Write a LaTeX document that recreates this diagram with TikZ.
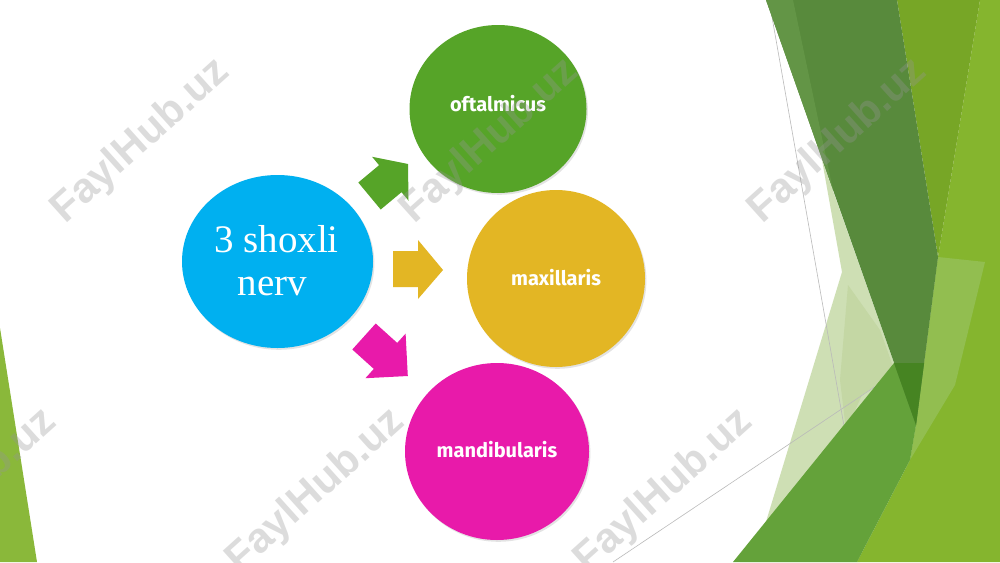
\documentclass[tikz,border=0pt]{standalone}
\usepackage{fontspec}
\setmainfont{Liberation Serif}
\newfontfamily\labelfont{Fira Sans}
\newfontfamily\wmfont{Liberation Sans}
\usetikzlibrary{shapes.geometric,shadows}
\definecolor{cblue}{RGB}{0,176,240}
\definecolor{cgreen}{RGB}{86,164,40}
\definecolor{cyellow}{RGB}{227,182,36}
\definecolor{cmag}{RGB}{232,26,170}
\definecolor{gdark}{RGB}{88,138,60}
\definecolor{gdarklt}{RGB}{99,149,70}
\definecolor{golive}{RGB}{119,166,38}
\definecolor{gyg}{RGB}{133,181,46}
\definecolor{gyglt}{RGB}{146,190,80}
\definecolor{gmed}{RGB}{100,162,58}
\definecolor{gdeep}{RGB}{70,132,34}
\definecolor{gpale}{RGB}{206,223,180}
\definecolor{gmidpale}{RGB}{196,215,164}
\definecolor{gstrip}{RGB}{138,184,58}
\begin{document}
\begin{tikzpicture}[x=0.5pt,y=-0.5pt,
  bubble/.style={ellipse, inner sep=0pt, draw=none,
    drop shadow={shadow xshift=0.7pt, shadow yshift=-0.9pt, opacity=0.22}},
  lbl/.style={text=white, font=\labelfont\bfseries\fontsize{10}{12}\selectfont, anchor=base, inner sep=0pt},
  serif/.style={text=white, font=\fontsize{19.5}{21}\selectfont, anchor=base, inner sep=0pt},
  wm/.style={text=black!41, text opacity=0.33, font=\wmfont\bfseries\fontsize{21}{22}\selectfont, rotate=42, inner sep=0pt},
  thinline/.style={draw=black!27, line width=0.3pt}
]
\fill[white] (0,0) rectangle (1000,562);
\useasboundingbox (0,0) rectangle (1000,562);

% background facets
\fill[gpale] (822,160) -- (842,272) -- (765,525) -- (740,562) -- (860,562) -- (900,380) -- cycle;
\fill[gmidpale] (848,285) -- (880,330) -- (895,372) -- (862,395) -- (846,430) -- (840,380) -- cycle;
\draw[thinline] (769,0) -- (850,460);
\draw[thinline] (613,562) -- (1000,303);
\fill[gyg] (938,257) -- (980,0) -- (1000,0) -- (1000,562) -- (857,562) -- (910,460) -- (916,425) -- cycle;
\fill[gyglt] (938,257) -- (985,262) -- (955,385) -- (910,460) -- (916,425) -- cycle;
\fill[gmed] (733,562) -- (894,363) -- (924,363) -- (916,425) -- (910,460) -- (857,562) -- cycle;
\fill[golive] (897,0) -- (980,0) -- (938,257) -- cycle;
\fill[gdark] (766,0) -- (897,0) -- (938,257) -- (916,425) -- cycle;
\fill[gdarklt] (766,0) -- (793,0) -- (833,190) -- cycle;
\fill[gdeep] (894,363) -- (924,363) -- (916,425) -- cycle;
\fill[gstrip] (0,328) -- (0,562) -- (37,562) -- cycle;

% circles
\node[bubble, fill=cblue, minimum width=95.5pt, minimum height=86.5pt] (nerv) at (277.5,261.5) {};
\node[bubble, fill=cgreen, minimum width=88.5pt, minimum height=84pt] (oft) at (498,109) {};
\node[bubble, fill=cyellow, minimum width=89pt, minimum height=88.5pt] (max) at (556,278.5) {};
\node[bubble, fill=cmag, minimum width=92pt, minimum height=88.5pt] (man) at (497,451.5) {};

\node[serif] (t1) at (276.5,252.7) {3 shoxli};
\node[serif] (t2) at (272.5,295) {nerv};
\node[lbl] (toft) at (498,111) {oftalmicus};
\node[lbl] (tmax) at (556,285) {maxillaris};
\node[lbl] (tman) at (497,457.3) {mandibularis};

% block arrows
\fill[cgreen] (358.3,182.5) -- (379.1,165.2) -- (372.1,156.8) -- (408,164) -- (408.5,200.6) -- (401.5,192.2) -- (380.7,209.5) -- cycle;
\fill[cyellow] (393,251) -- (418,251) -- (418,240) -- (443,270) -- (418,299) -- (418,287) -- (393,287) -- cycle;
\fill[cmag] (375.7,323.5) -- (397.2,342.9) -- (405.6,333.6) -- (407.8,376) -- (365.4,378.2) -- (373.8,368.9) -- (352.3,349.5) -- cycle;

% watermarks
\node[wm] (w1) at (141,141) {FaylHub.uz};
\node[wm] (w2) at (490,141) {FaylHub.uz};
\node[wm] (w3) at (838,141) {FaylHub.uz};
\node[wm] (w4) at (-32,491) {FaylHub.uz};
\node[wm] (w5) at (316,491) {FaylHub.uz};
\node[wm] (w6) at (664,491) {FaylHub.uz};
\end{tikzpicture}
\end{document}
